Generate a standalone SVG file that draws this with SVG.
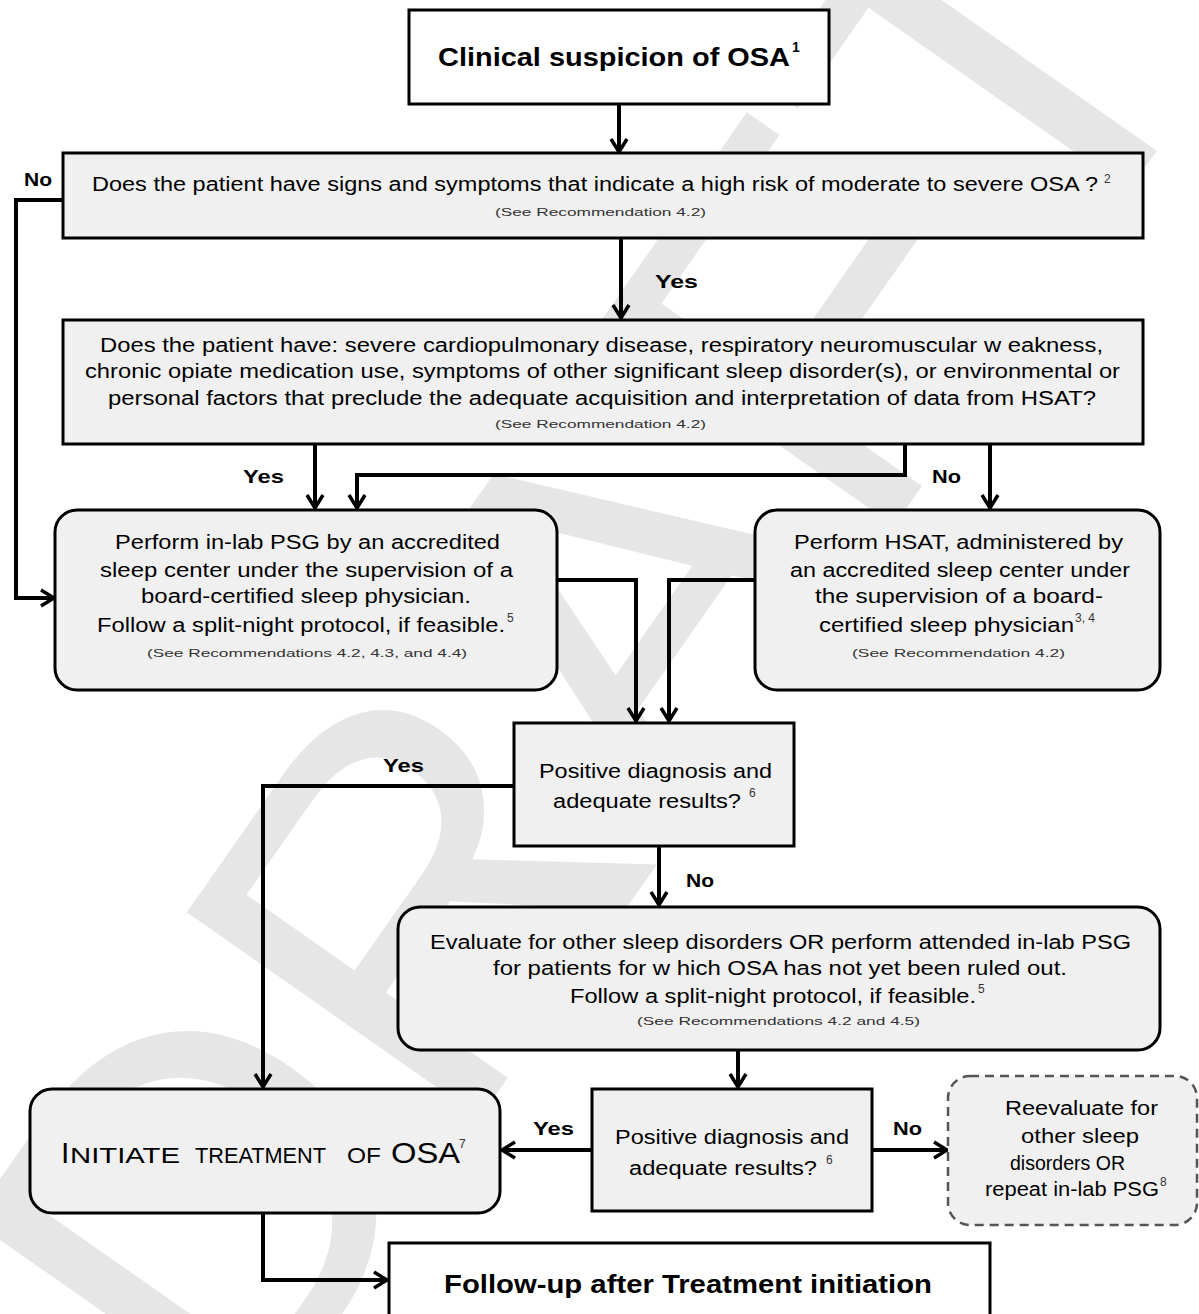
<svg xmlns="http://www.w3.org/2000/svg" width="1199" height="1314" viewBox="0 0 1199 1314">
<defs>
<style>
text{font-family:"Liberation Sans",Arial,sans-serif;fill:#000}
.box{fill:#f0f0f0;stroke:#000;stroke-width:3}
.wbox{fill:#fff;stroke:#000;stroke-width:3}
.dash{fill:#f0f0f0;stroke:#555;stroke-width:2.5;stroke-dasharray:9 6}
.t{font-size:20px}
.s{font-size:11px;fill:#333}
.sup{font-size:12px;fill:#333}
.lbl{font-size:19px;font-weight:bold}
.b{font-weight:bold;font-size:25px}
.conn path{fill:none;stroke:#000;stroke-width:4;marker-end:url(#arr)}
.wm{font-size:520px;fill:#e6e6e6}
</style>
<marker id="arr" markerUnits="userSpaceOnUse" markerWidth="24" markerHeight="24" viewBox="-16 -12 20 24" refX="0" refY="0" orient="auto">
<path d="M-13,-8 L0,0 L-13,8" fill="none" stroke="#000" stroke-width="3.5"/>
</marker>
</defs>
<rect width="1199" height="1314" fill="#fff"/>
<g id="watermark">
<text class="wm" transform="translate(240,1460) rotate(-55)">DRAFT</text>
</g>
<g id="connectors" class="conn">
<path d="M619,104 V152"/>
<path d="M63,200 H16 V598 H54"/>
<path d="M621,238 V318"/>
<path d="M315,444 V508"/>
<path d="M905,444 V475 H357 V508"/>
<path d="M990,444 V508"/>
<path d="M557,580 H636 V721"/>
<path d="M755,580 H669 V721"/>
<path d="M514,786 H263 V1087"/>
<path d="M659,846 V905"/>
<path d="M738,1050 V1087"/>
<path d="M592,1150 H502"/>
<path d="M872,1150 H947"/>
<path d="M263,1213 V1280 H387"/>
</g>
<g id="labels">
<text class="lbl" x="24" y="186" textLength="28" lengthAdjust="spacingAndGlyphs">No</text>
<text class="lbl" x="655" y="288" textLength="43" lengthAdjust="spacingAndGlyphs">Yes</text>
<text class="lbl" x="243" y="483" textLength="41" lengthAdjust="spacingAndGlyphs">Yes</text>
<text class="lbl" x="932" y="483" textLength="29" lengthAdjust="spacingAndGlyphs">No</text>
<text class="lbl" x="383" y="772" textLength="41" lengthAdjust="spacingAndGlyphs">Yes</text>
<text class="lbl" x="686" y="887" textLength="28" lengthAdjust="spacingAndGlyphs">No</text>
<text class="lbl" x="533" y="1135" textLength="41" lengthAdjust="spacingAndGlyphs">Yes</text>
<text class="lbl" x="893" y="1135" textLength="29" lengthAdjust="spacingAndGlyphs">No</text>
</g>
<g id="n-suspicion">
<rect class="wbox" x="409" y="10" width="420" height="94"/>
<text class="b" x="438" y="66" textLength="352" lengthAdjust="spacingAndGlyphs">Clinical suspicion  of OSA</text>
<text x="792" y="52" font-size="14" font-weight="bold">1</text>
</g>
<g id="n-highrisk">
<rect class="box" x="63" y="153" width="1080" height="85"/>
<text class="t" x="92" y="191" textLength="1006" lengthAdjust="spacingAndGlyphs">Does the patient have signs and symptoms that indicate a high risk of moderate to severe OSA ?</text>
<text class="sup" x="1104" y="183">2</text>
<text class="s" x="495" y="216" textLength="211" lengthAdjust="spacingAndGlyphs">(See Recommendation  4.2)</text>
</g>
<g id="n-comorbid">
<rect class="box" x="63" y="320" width="1080" height="124"/>
<text class="t" x="100" y="352" textLength="1003" lengthAdjust="spacingAndGlyphs">Does the patient have: severe cardiopulmonary disease, respiratory neuromuscular w eakness,</text>
<text class="t" x="85" y="378" textLength="1035" lengthAdjust="spacingAndGlyphs">chronic opiate medication use, symptoms of other significant sleep disorder(s), or environmental or</text>
<text class="t" x="108" y="405" textLength="988" lengthAdjust="spacingAndGlyphs">personal factors that preclude the adequate acquisition and interpretation of data from HSAT?</text>
<text class="s" x="495" y="428" textLength="211" lengthAdjust="spacingAndGlyphs">(See Recommendation  4.2)</text>
</g>
<g id="n-psg">
<rect class="box" x="55" y="510" width="502" height="180" rx="22"/>
<text class="t" x="115" y="549" textLength="385" lengthAdjust="spacingAndGlyphs">Perform in-lab PSG by an accredited</text>
<text class="t" x="100" y="577" textLength="413" lengthAdjust="spacingAndGlyphs">sleep center under the supervision of a</text>
<text class="t" x="141" y="603" textLength="330" lengthAdjust="spacingAndGlyphs">board-certified sleep physician.</text>
<text class="t" x="97" y="632" textLength="408" lengthAdjust="spacingAndGlyphs">Follow  a split-night protocol, if feasible.</text>
<text class="sup" x="507" y="622">5</text>
<text class="s" x="147" y="657" textLength="320" lengthAdjust="spacingAndGlyphs">(See Recommendations  4.2, 4.3, and 4.4)</text>
</g>
<g id="n-hsat">
<rect class="box" x="755" y="510" width="405" height="180" rx="22"/>
<text class="t" x="794" y="549" textLength="329" lengthAdjust="spacingAndGlyphs">Perform HSAT, administered by</text>
<text class="t" x="790" y="577" textLength="340" lengthAdjust="spacingAndGlyphs">an accredited sleep center under</text>
<text class="t" x="815" y="603" textLength="288" lengthAdjust="spacingAndGlyphs">the supervision of a board-</text>
<text class="t" x="819" y="632" textLength="255" lengthAdjust="spacingAndGlyphs">certified sleep physician</text>
<text class="sup" x="1075" y="622">3, 4</text>
<text class="s" x="852" y="657" textLength="213" lengthAdjust="spacingAndGlyphs">(See Recommendation  4.2)</text>
</g>
<g id="n-positive1">
<rect class="box" x="514" y="723" width="280" height="123"/>
<text class="t" x="539" y="778" textLength="233" lengthAdjust="spacingAndGlyphs">Positive diagnosis and</text>
<text class="t" x="553" y="808" textLength="188" lengthAdjust="spacingAndGlyphs">adequate results?</text>
<text class="sup" x="749" y="797">6</text>
</g>
<g id="n-evaluate">
<rect class="box" x="398" y="907" width="762" height="143" rx="22"/>
<text class="t" x="430" y="949" textLength="701" lengthAdjust="spacingAndGlyphs">Evaluate for other sleep disorders OR perform attended in-lab PSG</text>
<text class="t" x="493" y="975" textLength="574" lengthAdjust="spacingAndGlyphs">for patients for w hich OSA has not yet been ruled out.</text>
<text class="t" x="570" y="1003" textLength="406" lengthAdjust="spacingAndGlyphs">Follow  a split-night protocol, if feasible.</text>
<text class="sup" x="978" y="993">5</text>
<text class="s" x="637" y="1025" textLength="283" lengthAdjust="spacingAndGlyphs">(See Recommendations  4.2 and 4.5)</text>
</g>
<g id="n-positive2">
<rect class="box" x="592" y="1089" width="280" height="122"/>
<text class="t" x="615" y="1144" textLength="234" lengthAdjust="spacingAndGlyphs">Positive diagnosis and</text>
<text class="t" x="629" y="1175" textLength="188" lengthAdjust="spacingAndGlyphs">adequate results?</text>
<text class="sup" x="826" y="1164">6</text>
</g>
<g id="n-reevaluate">
<rect class="dash" x="948" y="1076" width="249" height="149" rx="22"/>
<text class="t" x="1005" y="1115" textLength="153" lengthAdjust="spacingAndGlyphs">Reevaluate for</text>
<text class="t" x="1021" y="1143" textLength="118" lengthAdjust="spacingAndGlyphs">other sleep</text>
<text class="t" x="1010" y="1170" textLength="115" lengthAdjust="spacingAndGlyphs">disorders OR</text>
<text class="t" x="985" y="1196" textLength="174" lengthAdjust="spacingAndGlyphs">repeat in-lab PSG</text>
<text class="sup" x="1160" y="1186">8</text>
</g>
<g id="n-initiate">
<rect class="box" x="30" y="1089" width="470" height="124" rx="22"/>
<text x="61" y="1163" font-size="30">I</text>
<text x="70" y="1163" font-size="22" textLength="110" lengthAdjust="spacingAndGlyphs">NITIATE</text>
<text x="195" y="1163" font-size="22" textLength="131" lengthAdjust="spacingAndGlyphs">TREATMENT</text>
<text x="347" y="1163" font-size="22" textLength="34" lengthAdjust="spacingAndGlyphs">OF</text>
<text x="391" y="1163" font-size="30" textLength="69" lengthAdjust="spacingAndGlyphs">OSA</text>
<text class="sup" x="459" y="1148">7</text>
</g>
<g id="n-followup">
<rect class="wbox" x="389" y="1243" width="601" height="90"/>
<text class="b" x="444" y="1293" textLength="488" lengthAdjust="spacingAndGlyphs">Follow-up after Treatment initiation</text>
</g>
</svg>
